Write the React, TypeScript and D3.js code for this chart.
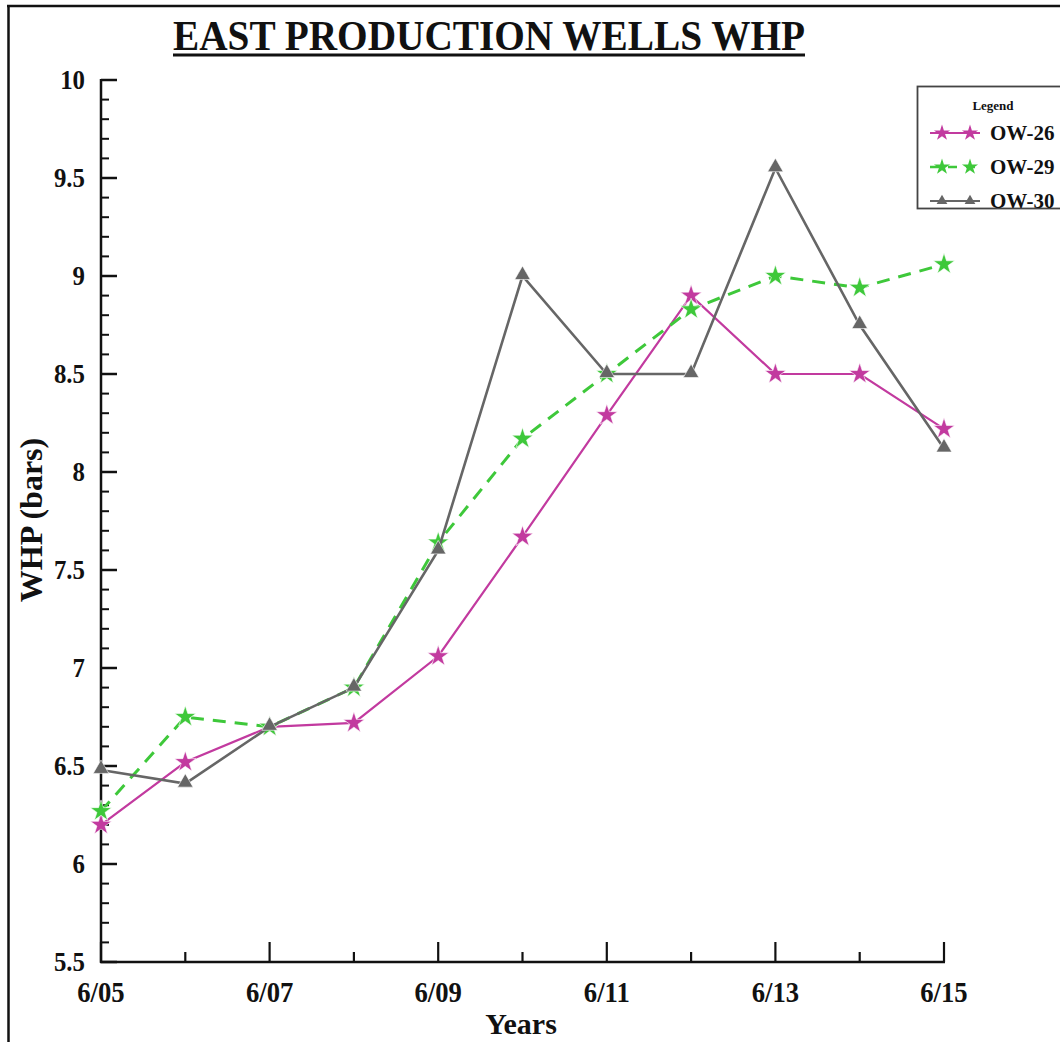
import React from "react";
import * as d3 from "d3";

// Well-head pressure readings, one per year (June)
const years = ["6/05", "6/06", "6/07", "6/08", "6/09", "6/10", "6/11", "6/12", "6/13", "6/14", "6/15"];
const ow26 = [6.2, 6.52, 6.7, 6.72, 7.06, 7.67, 8.29, 8.9, 8.5, 8.5, 8.22];
const ow29 = [6.27, 6.75, 6.7, 6.9, 7.64, 8.17, 8.5, 8.83, 9.0, 8.94, 9.06];
const ow30 = [6.48, 6.41, 6.7, 6.9, 7.6, 9.0, 8.5, 8.5, 9.55, 8.75, 8.12];
const yTicks = [5.5, 6, 6.5, 7, 7.5, 8, 8.5, 9, 9.5, 10];

const W = 1060;
const H = 1042;
const FONT = "'Liberation Serif', 'Times New Roman', serif";

type Series = {
  name: string;
  values: number[];
  color: string;
  dash?: string;
  width: number;
  marker: "star" | "triangle";
};

const series: Series[] = [
  { name: "OW-26", values: ow26, color: "#c23a9f", width: 2.2, marker: "star" },
  { name: "OW-29", values: ow29, color: "#3ec83a", width: 3, dash: "13,9", marker: "star" },
  { name: "OW-30", values: ow30, color: "#666666", width: 2.6, marker: "triangle" },
];

const x = d3.scaleLinear().domain([0, years.length - 1]).range([101, 944]);
const y = d3.scaleLinear().domain([5.5, 10]).range([962, 80]);

const starPath = d3.symbol().type(d3.symbolStar).size(140)()!;
const triPath = d3.symbol().type(d3.symbolTriangle).size(105)()!;
const starSmall = d3.symbol().type(d3.symbolStar).size(80)()!;
const triSmall = d3.symbol().type(d3.symbolTriangle).size(50)()!;

export default function App() {
  const line = (vals: number[]) =>
    d3
      .line<number>()
      .x((_, i) => x(i))
      .y((v) => y(v))(vals)!;

  const minorY = d3.range(55, 101).map((v) => v / 10).filter((v) => Math.round(v * 10) % 5 !== 0);

  return (
    <svg
      width={W}
      height={H}
      style={{ position: "absolute", left: 0, top: 0, background: "#fff" }}
      fontFamily={FONT}
    >
      {/* outer frame */}
      <line x1={8.5} y1={5} x2={8.5} y2={H} stroke="#111" strokeWidth={2.5} />
      <line x1={7} y1={6} x2={W} y2={6} stroke="#111" strokeWidth={2.5} />

      {/* title */}
      <text
        x={489}
        y={50}
        textAnchor="middle"
        fontSize={42}
        fontWeight="bold"
        textLength={632}
        lengthAdjust="spacingAndGlyphs"
        fill="#111"
      >
        EAST PRODUCTION WELLS WHP
      </text>
      <line x1={173} x2={805} y1={55} y2={55} stroke="#111" strokeWidth={3} />

      {/* y axis */}
      <line x1={x(0)} x2={x(0)} y1={y(10) - 1} y2={y(5.5) + 1} stroke="#111" strokeWidth={2.5} />
      {yTicks.map((t) => (
        <g key={t}>
          <line x1={x(0)} x2={x(0) + 16} y1={y(t)} y2={y(t)} stroke="#111" strokeWidth={2.5} />
          <text
            transform={`translate(85,${y(t) + 9}) scale(0.92,1)`}
            textAnchor="end"
            fontSize={27}
            fontWeight="bold"
            fill="#111"
          >
            {t}
          </text>
        </g>
      ))}
      {minorY.map((t) => (
        <line key={t} x1={x(0)} x2={x(0) + 8} y1={y(t)} y2={y(t)} stroke="#111" strokeWidth={2} />
      ))}

      {/* x axis */}
      <line x1={x(0) - 1} x2={x(10) + 1} y1={y(5.5)} y2={y(5.5)} stroke="#111" strokeWidth={2.5} />
      {years.map((lab, i) => {
        const major = i % 2 === 0;
        return (
          <g key={lab}>
            <line
              x1={x(i)}
              x2={x(i)}
              y1={y(5.5)}
              y2={y(5.5) - (major ? 20 : 10)}
              stroke="#111"
              strokeWidth={2.2}
            />
            {major && (
              <text
                transform={`translate(${x(i)},1002) scale(0.92,1)`}
                textAnchor="middle"
                fontSize={29}
                fontWeight="bold"
                fill="#111"
              >
                {lab}
              </text>
            )}
          </g>
        );
      })}

      {/* axis titles */}
      <text x={521} y={1034} textAnchor="middle" fontSize={30} fontWeight="bold" fill="#111">
        Years
      </text>
      <text
        transform="translate(42,520) rotate(-90)"
        textAnchor="middle"
        fontSize={32}
        fontWeight="bold"
        fill="#111"
      >
        WHP (bars)
      </text>

      {/* series */}
      {series.map((s) => (
        <g key={s.name}>
          <path
            d={line(s.values)}
            fill="none"
            stroke={s.color}
            strokeWidth={s.width}
            strokeDasharray={s.dash}
          />
          {s.values.map((v, i) => (
            <path
              key={i}
              d={s.marker === "star" ? starPath : triPath}
              transform={`translate(${x(i)},${y(v) + (s.marker === "triangle" ? -1 : 0)})`}
              fill={s.color}
              stroke="#fff"
              strokeWidth={0.6}
            />
          ))}
        </g>
      ))}

      {/* legend */}
      <rect x={917.5} y={86.5} width={160} height={122} fill="#fff" stroke="#444" strokeWidth={1.8} />
      <text x={993} y={110} textAnchor="middle" fontSize={13} fontWeight="bold" fill="#111">
        Legend
      </text>
      {series.map((s, k) => {
        const cy = 133 + k * 34;
        return (
          <g key={s.name}>
            <line
              x1={930}
              x2={980}
              y1={cy}
              y2={cy}
              stroke={s.color}
              strokeWidth={s.dash ? 2.4 : 1.8}
              strokeDasharray={s.dash ? "9,9" : undefined}
            />
            {[942, 970].map((mx) => (
              <path
                key={mx}
                d={s.marker === "star" ? starSmall : triSmall}
                transform={`translate(${mx},${cy})`}
                fill={s.color}
              />
            ))}
            <text x={990} y={cy + 7} fontSize={21} fontWeight="bold" fill="#111">
              {s.name}
            </text>
          </g>
        );
      })}
    </svg>
  );
}
